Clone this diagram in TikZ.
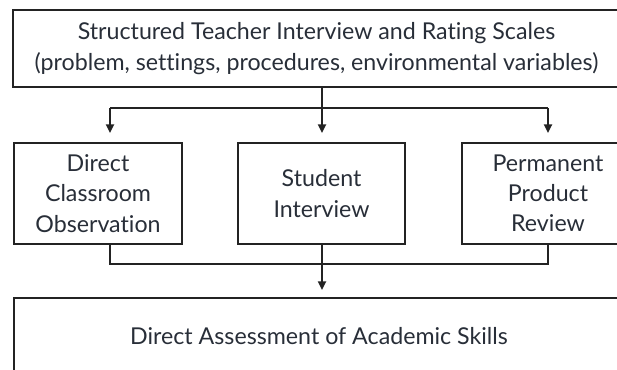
\documentclass[tikz,border=0pt]{standalone}
\usepackage{fontspec}
\setmainfont{Lato}[Ligatures={NoCommon}]
\usetikzlibrary{arrows.meta}
\definecolor{inkline}{RGB}{35,35,35}
\definecolor{inktext}{RGB}{40,46,56}
\tikzset{
  stagebox/.style={draw=inkline, line width=1.3pt, text=inktext, align=center,
    inner sep=0pt, font=\fontsize{16.5}{21.5}\selectfont},
  link/.style={draw=inkline, line width=1.7pt},
  flow/.style={link, -{Triangle[length=0.22cm,width=0.2cm]}}
}
\begin{document}
\begin{tikzpicture}[x=0.025cm,y=-0.025cm]
		\useasboundingbox (0,0) rectangle (617,369);
		\clip (0,0) rectangle (617,369);
		% boxes
		\node[stagebox, minimum width=607*0.025cm, minimum height=77*0.025cm] (interview) at (316.5,48.5)
			{Structured Teacher Interview and Rating Scales\\(problem, settings, procedures, environmental variables)};
		\node[stagebox, minimum width=168*0.025cm, minimum height=101*0.025cm] (observe) at (98,193.5)
			{Direct\\Classroom\\Observation};
		\node[stagebox, minimum width=167*0.025cm, minimum height=101*0.025cm] (student) at (321.5,193.5)
			{Student\\Interview};
		\node[stagebox, minimum width=172*0.025cm, minimum height=101*0.025cm] (product) at (548,193.5)
			{Permanent\\Product\\Review};
		\node[stagebox, minimum width=610*0.025cm, minimum height=76*0.025cm] (skills) at (319,336)
			{Direct Assessment of Academic Skills};
		% connectors
		\coordinate (split) at (322,108);
		\coordinate (merge) at (322,264);
		\draw[link] (interview.south -| split) -- (split);
		\draw[link] (split -| 110,0) -- (split -| product);
		\draw[flow, shorten >=9*0.025cm] (split -| 110,0) -- (observe.north -| 110,0);
		\draw[flow, shorten >=9*0.025cm] (split) -- (student.north -| split);
		\draw[flow, shorten >=9*0.025cm] (split -| product) -- (product.north);
		\draw[link] (observe.south -| 110,0) -- (merge -| 110,0) -- (merge -| product) -- (product.south);
		\draw[flow, shorten >=7*0.025cm] (student.south -| merge) -- (skills.north -| merge);
\end{tikzpicture}
\end{document}
